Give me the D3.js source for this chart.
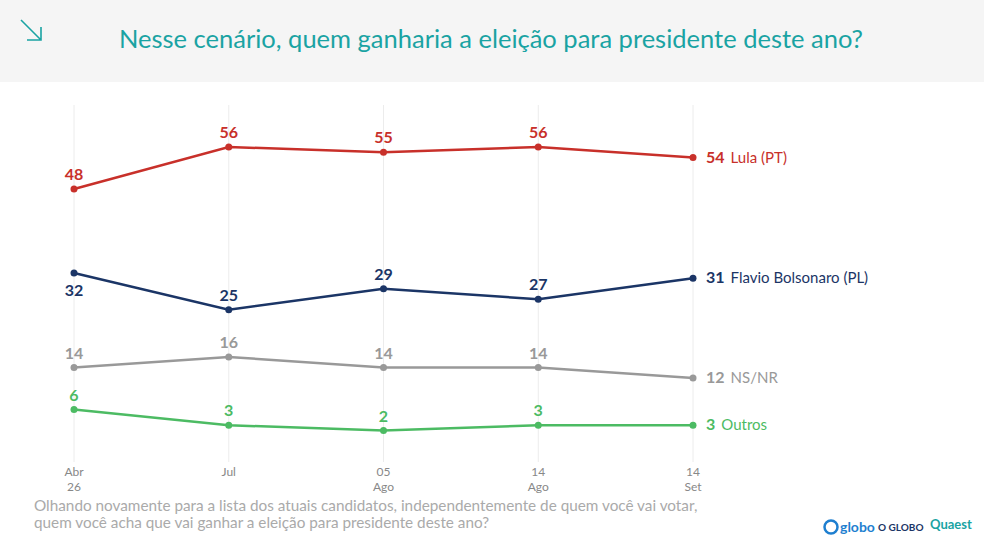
<!DOCTYPE html>
<html><head><meta charset="utf-8">
<script src="https://cdn.jsdelivr.net/npm/d3@7"></script>
<style>body{margin:0;background:#fff;font-family:Lato,"Open Sans",sans-serif}</style>
</head><body><svg id="c" width="984" height="552"></svg>
<script>
const dates = [["Abr","26"],["Jul",""],["05","Ago"],["14","Ago"],["14","Set"]];
const lula = [48,56,55,56,54];
const flavio = [32,25,29,27,31];
const nsnr = [14,16,14,14,12];
const outros = [6,3,2,3,3];
const series = [
 {name:"Lula (PT)", vals:lula, color:"#c8302a"},
 {name:"Flavio Bolsonaro (PL)", vals:flavio, color:"#1b3566", aboveIdx:[1,2,3]},
 {name:"NS/NR", vals:nsnr, color:"#999999"},
 {name:"Outros", vals:outros, color:"#4cbb63"}
];
const svg = d3.select("#c");
svg.append("rect").attr("width",984).attr("height",82).attr("fill","#f5f5f5");
svg.append("path").attr("d","M21 20 L41 40 M27 40 L41 40 L41 27").attr("stroke","#1aa3a3").attr("stroke-width",1.6).attr("fill","none");
svg.append("text").attr("x",491).attr("y",48).attr("text-anchor","middle").attr("fill","#1aa3a3")
 .attr("font-size",25.5).text("Nesse cenário, quem ganharia a eleição para presidente deste ano?");
const x = d3.scalePoint().domain(d3.range(dates.length)).range([74,693]);
const y = d3.scaleLinear().domain([0,60]).range([441,126]);
dates.forEach((d,i)=>{
 svg.append("line").attr("x1",x(i)).attr("x2",x(i)).attr("y1",105).attr("y2",462).attr("stroke","#ececec");
 const t = svg.append("text").attr("x",x(i)).attr("text-anchor","middle").attr("fill","#888").attr("font-size",12);
 t.append("tspan").attr("x",x(i)).attr("y",476).text(d[0]);
 t.append("tspan").attr("x",x(i)).attr("y",491).text(d[1]);
});
const line = d3.line().x((d,i)=>x(i)).y(d=>y(d));
series.forEach(s=>{
 svg.append("path").attr("d",line(s.vals)).attr("fill","none").attr("stroke",s.color).attr("stroke-width",2.5);
 s.vals.forEach((v,i)=>{
  svg.append("circle").attr("cx",x(i)).attr("cy",y(v)).attr("r",3.5).attr("fill",s.color);
  if(i<s.vals.length-1){
   const ab = s.aboveIdx ? s.aboveIdx.includes(i) : true;
   svg.append("text").attr("x",x(i)).attr("y",ab? y(v)-9 : y(v)+23).attr("text-anchor","middle")
    .attr("fill",s.color).attr("font-size",16).attr("font-weight","bold").text(v);
  }
 });
 const last = s.vals[s.vals.length-1];
 const t = svg.append("text").attr("x",706).attr("y",y(last)+5).attr("fill",s.color).attr("font-size",15);
 t.append("tspan").attr("font-weight","bold").attr("font-size",16).text(last);
 t.append("tspan").attr("dx",6).text(s.name);
});
svg.append("text").attr("x",34).attr("y",511).attr("fill","#aaa").attr("font-size",15.3).text("Olhando novamente para a lista dos atuais candidatos, independentemente de quem você vai votar,");
svg.append("text").attr("x",34).attr("y",528).attr("fill","#aaa").attr("font-size",15.3).text("quem você acha que vai ganhar a eleição para presidente deste ano?");
svg.append("circle").attr("cx",831).attr("cy",527).attr("r",6.5).attr("fill","none").attr("stroke","#1e7fd0").attr("stroke-width",2.5);
svg.append("text").attr("x",840).attr("y",532).attr("fill","#1e7fd0").attr("font-size",14).attr("font-weight","bold").text("globo");
svg.append("text").attr("x",878).attr("y",531).attr("fill","#1b3566").attr("font-size",10).attr("font-weight","bold").text("O GLOBO");
svg.append("text").attr("x",930).attr("y",529).attr("fill","#1aa3a3").attr("font-size",13).attr("font-weight","bold").text("Quaest");
</script></body></html>
